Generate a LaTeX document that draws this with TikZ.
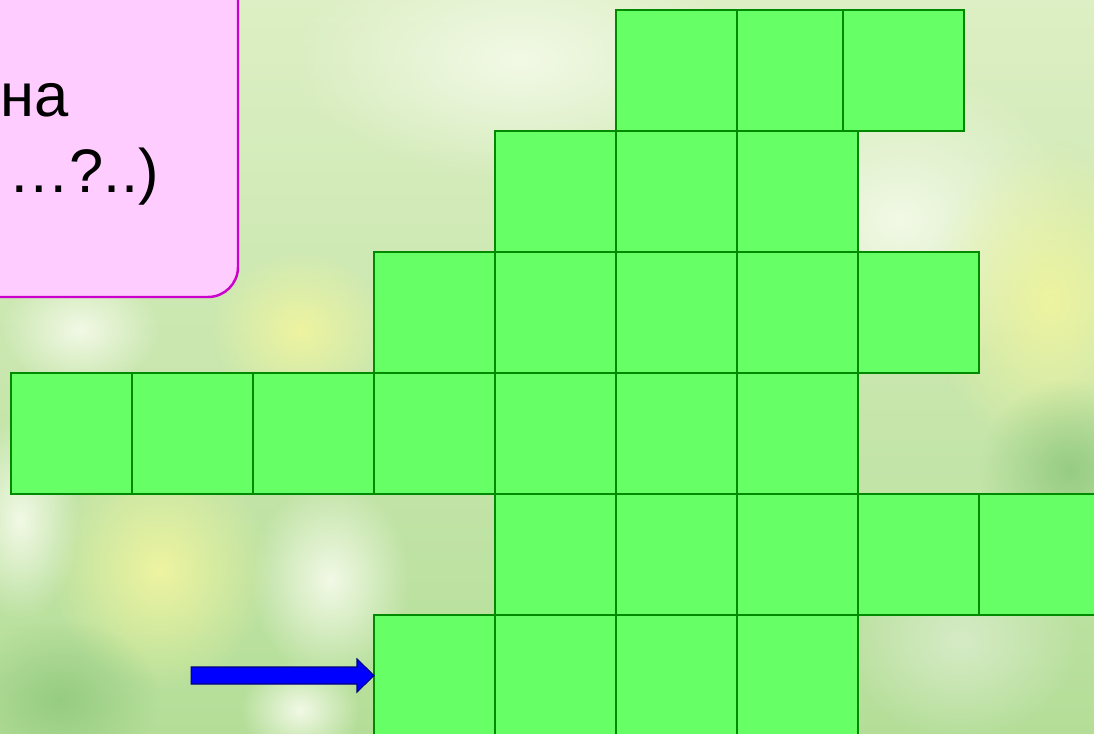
\documentclass[tikz,border=0pt]{standalone}
\usepackage{fontspec}
\setmainfont{Liberation Sans}
\usetikzlibrary{calc, positioning}
\usetikzlibrary{fadings}

\definecolor{cellfill}{HTML}{66FF66}
\definecolor{celledge}{HTML}{008A00}
\definecolor{pinkfill}{HTML}{FFCCFF}
\definecolor{pinkedge}{HTML}{CC00CC}
\definecolor{arrowfill}{HTML}{0000FF}
\definecolor{arrowedge}{HTML}{000080}
\definecolor{bgtop}{HTML}{DDEFC4}
\definecolor{bgbot}{HTML}{B4DE98}
\definecolor{bgwhite}{HTML}{F2F9E6}
\definecolor{bgyellow}{HTML}{EEF4A0}
\definecolor{bgdeep}{HTML}{96CC82}
\definecolor{bgpale}{HTML}{D6EBC6}

\tikzfading[name=blobfade, inner color=transparent!0, outer color=transparent!100]

\begin{document}
\begin{tikzpicture}[x=0.02cm, y=-0.02cm,
  cell/.style={draw=celledge, fill=cellfill, line width=1.2pt, minimum size=2.42cm, inner sep=0pt, outer sep=0pt},
  blob/.style={path fading=blobfade},
  boxtext/.style={font=\fontsize{35}{42}\selectfont, inner sep=0pt}]
\def\cellpx{121}
\def\headlen{0.34cm}
\def\shafthalf{0.17cm}
\def\headhalf{0.33cm}

\useasboundingbox (0,0) rectangle (1094,733);
\clip (0,0) rectangle (1094,733);

\shade[top color=bgtop, bottom color=bgbot] (0,0) rectangle (1094,733);
\foreach \bx/\by/\brx/\bry/\bcol in {520/60/230/120/bgwhite, 900/220/180/150/bgwhite,
    300/330/90/80/bgyellow, 160/570/110/120/bgyellow, 330/580/80/100/bgwhite,
    300/710/60/50/bgwhite, 1050/300/120/160/bgyellow, 1070/470/90/90/bgdeep,
    60/700/100/80/bgdeep, 960/640/120/100/bgpale, 80/330/80/60/bgwhite,
    20/520/60/100/bgwhite, 460/420/70/70/bgwhite}
  \fill[\bcol, blob] (\bx,\by) ellipse [x radius=\brx, y radius=\bry];

\draw[draw=pinkedge, fill=pinkfill, line width=1.4pt, rounded corners=0.6cm] (-40,-40) rectangle (238,297);
\node[boxtext, anchor=base east] (txtna) at (69,117) {на};
\node[boxtext, anchor=base east] (txtq) at (159,193) {…?..)};

\foreach \r/\c in {0/5, 0/6, 1/4, 1/5, 1/6, 2/3, 2/4, 2/5, 2/6, 2/7,
    3/0, 3/1, 3/2, 3/3, 3/4, 3/5, 3/6, 4/4, 4/5, 4/6, 4/7, 4/8,
    5/3, 5/4, 5/5, 5/6}
  \node[cell] (c\r\c) at ({71.5+\cellpx*\c},{70.5+\cellpx*\r}) {};
\node[cell, right=-0.3cm of c06] (c07) {};

\coordinate (arrtail) at ($(c53.west)+(-3.66cm,0)$);
\draw[draw=arrowedge, fill=arrowfill, line width=0.6pt]
  ($(arrtail)+(0,\shafthalf)$) -- ($(c53.west)+(-\headlen,\shafthalf)$)
  -- ($(c53.west)+(-\headlen,\headhalf)$) -- (c53.west)
  -- ($(c53.west)+(-\headlen,-\headhalf)$) -- ($(c53.west)+(-\headlen,-\shafthalf)$)
  -- ($(arrtail)+(0,-\shafthalf)$) -- cycle;
\end{tikzpicture}
\end{document}
